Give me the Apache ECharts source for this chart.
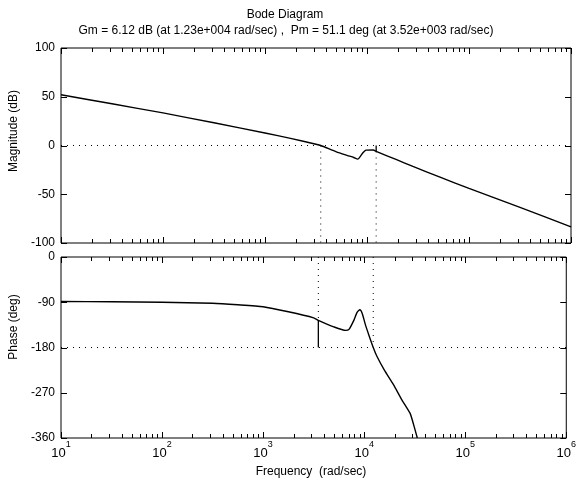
<!DOCTYPE html>
<html><head><meta charset="utf-8">
<script src="https://cdn.jsdelivr.net/npm/echarts@6/dist/echarts.min.js"></script>
<style>html,body{margin:0;padding:0;background:#fff}#c{width:579px;height:482px}</style>
</head><body><div id="c"></div>
<script>
// ---- data ----
const magFreq = [10, 31.6, 100, 316, 1000, 1778, 3162, 3520, 5012, 6457, 7413, 8110, 9120, 9770, 11480, 12300, 19500, 28180, 52000, 100000, 316200, 1000000];
const magDb   = [52, 42.8, 33.4, 23.3, 12.8, 7.3, 1.3, 0, -6.5, -10.3, -12.3, -14, -7.5, -4.8, -4.6, -6.1, -14.5, -21.5, -32.5, -44, -63.5, -83.5];
const phaseFreq = [10, 31.6, 100, 316, 562, 1000, 1778, 3162, 3520, 5012, 6561, 7079, 7943, 8511, 9078, 9550, 10300, 11120, 12300, 13400, 15850, 19500, 23440, 28510, 30900, 33570];
const phaseDeg  = [-88.5, -89, -90, -92, -95, -99, -109, -121, -126, -139, -146, -144, -125, -110, -105, -112, -135, -155, -180, -198, -225, -254, -283, -311, -334, -360];
const magTicks = [100, 50, 0, -50, -100];
const phaseTicks = [0, -90, -180, -270, -360];
const decades = [1, 2, 3, 4, 5, 6];
const gmFreq = 12300, gmDb = -6.12;
const pmFreq = 3520, pmPhase = -126;
const titleText = 'Bode Diagram';
const subtitleText = 'Gm = 6.12 dB (at 1.23e+004 rad/sec) ,  Pm = 51.1 deg (at 3.52e+003 rad/sec)';

const FONT = 'Liberation Sans, Arial, sans-serif';
const chart = echarts.init(document.getElementById('c'), null, {renderer: 'canvas'});
const xMin = Math.pow(10, decades[0]), xMax = Math.pow(10, decades[decades.length - 1]);

function zip(a, b) { return a.map((v, i) => [v, b[i]]); }

function tickRenderer(yTicks) {
  return function (params, api) {
    const children = [];
    const yTop = yTicks[0], yBot = yTicks[yTicks.length - 1];
    const add = (x1, y1, x2, y2) => children.push({type: 'line', shape: {x1, y1, x2, y2}, style: {stroke: '#000', lineWidth: 1}});
    for (let d = 0; d < decades.length; d++) {
      const base = Math.pow(10, decades[d]);
      for (let m = 1; m <= 9; m++) {
        if (d === decades.length - 1 && m > 1) break;
        const v = base * m;
        const len = m === 1 ? 6 : 4;
        const pb = api.coord([v, yBot]);
        const pt = api.coord([v, yTop]);
        const x = Math.round(pb[0]) + 0.5;
        add(x, pb[1], x, pb[1] - len);
        add(x, pt[1], x, pt[1] + len);
      }
    }
    yTicks.forEach(t => {
      const pl = api.coord([xMin, t]);
      const pr = api.coord([xMax, t]);
      const y = Math.round(pl[1]) + 0.5;
      add(pl[0], y, pl[0] + 6, y);
      add(pr[0], y, pr[0] - 6, y);
    });
    return {type: 'group', children};
  };
}

const dotted = {color: '#000', width: 1, type: [1, 5]};
const solidThin = {color: '#000', width: 1.3};

const labelRich = {
  b: {fontSize: 13, fontFamily: FONT, color: '#000', verticalAlign: 'bottom', lineHeight: 20},
  s: {fontSize: 9, fontFamily: FONT, color: '#000', verticalAlign: 'top', lineHeight: 20}
};

const option = {
  backgroundColor: '#fff',
  animation: false,
  grid: [
    {left: 61, right: 8, top: 48, height: 195, show: true, borderColor: '#000', borderWidth: 1, backgroundColor: '#fff'},
    {left: 61, right: 8, top: 257, height: 181, show: true, borderColor: '#000', borderWidth: 1, backgroundColor: '#fff'}
  ],
  xAxis: [0, 1].map(i => ({
    type: 'log', logBase: 10, gridIndex: i, min: xMin, max: xMax,
    axisLine: {show: false}, axisTick: {show: false}, splitLine: {show: false}, minorTick: {show: false},
    axisLabel: i === 1 ? {
      show: true, margin: 2,
      formatter: v => '{b|10}{s|' + Math.round(Math.log10(v)) + '}',
      rich: labelRich
    } : {show: false}
  })),
  yAxis: [
    {type: 'value', gridIndex: 0, min: magTicks[magTicks.length - 1], max: magTicks[0], interval: 50,
     axisLine: {show: false}, axisTick: {show: false}, splitLine: {show: false},
     axisLabel: {fontSize: 12, fontFamily: FONT, color: '#000', margin: 6}},
    {type: 'value', gridIndex: 1, min: phaseTicks[phaseTicks.length - 1], max: phaseTicks[0], interval: 90,
     axisLine: {show: false}, axisTick: {show: false}, splitLine: {show: false},
     axisLabel: {fontSize: 12, fontFamily: FONT, color: '#000', margin: 6}}
  ],
  series: [
    // reference dotted lines
    {type: 'line', xAxisIndex: 0, yAxisIndex: 0, data: [[xMin, 0], [xMax, 0]], showSymbol: false, lineStyle: dotted, silent: true, z: 1},
    {type: 'line', xAxisIndex: 1, yAxisIndex: 1, data: [[xMin, -180], [xMax, -180]], showSymbol: false, lineStyle: dotted, silent: true, z: 1},
    {type: 'line', xAxisIndex: 0, yAxisIndex: 0, data: [[pmFreq, 0], [pmFreq, magTicks[magTicks.length - 1]]], showSymbol: false, lineStyle: dotted, silent: true, z: 1},
    {type: 'line', xAxisIndex: 0, yAxisIndex: 0, data: [[gmFreq, gmDb], [gmFreq, magTicks[magTicks.length - 1]]], showSymbol: false, lineStyle: dotted, silent: true, z: 1},
    {type: 'line', xAxisIndex: 1, yAxisIndex: 1, data: [[pmFreq, 0], [pmFreq, pmPhase]], showSymbol: false, lineStyle: dotted, silent: true, z: 1},
    {type: 'line', xAxisIndex: 1, yAxisIndex: 1, data: [[gmFreq, 0], [gmFreq, -180]], showSymbol: false, lineStyle: dotted, silent: true, z: 1},
    // margin solid lines
    {type: 'line', xAxisIndex: 0, yAxisIndex: 0, data: [[gmFreq, 0], [gmFreq, gmDb]], showSymbol: false, lineStyle: solidThin, silent: true, z: 3},
    {type: 'line', xAxisIndex: 1, yAxisIndex: 1, data: [[pmFreq, pmPhase], [pmFreq, -180]], showSymbol: false, lineStyle: solidThin, silent: true, z: 3},
    // curves
    {type: 'line', xAxisIndex: 0, yAxisIndex: 0, data: zip(magFreq, magDb), showSymbol: false, smooth: 0.2, clip: true,
     lineStyle: {color: '#000', width: 1.4}, z: 4},
    {type: 'line', xAxisIndex: 1, yAxisIndex: 1, data: zip(phaseFreq, phaseDeg), showSymbol: false, smooth: 0.2, clip: true,
     lineStyle: {color: '#000', width: 1.4}, z: 4},
    // tick marks on all four sides
    {type: 'custom', xAxisIndex: 0, yAxisIndex: 0, data: [[xMin, 0]], renderItem: tickRenderer(magTicks), silent: true, z: 5, clip: false},
    {type: 'custom', xAxisIndex: 1, yAxisIndex: 1, data: [[xMin, 0]], renderItem: tickRenderer(phaseTicks), silent: true, z: 5, clip: false}
  ],
  graphic: [
    {type: 'text', x: 285, y: 15, style: {text: titleText, font: '12px ' + FONT, fill: '#000', textAlign: 'center', textVerticalAlign: 'middle'}},
    {type: 'text', x: 286, y: 31, style: {text: subtitleText, font: '12px ' + FONT, fill: '#000', textAlign: 'center', textVerticalAlign: 'middle'}},
    {type: 'text', x: 14, y: 131, rotation: Math.PI / 2, style: {text: 'Magnitude (dB)', font: '12px ' + FONT, fill: '#000', textAlign: 'center', textVerticalAlign: 'middle'}},
    {type: 'text', x: 14, y: 327, rotation: Math.PI / 2, style: {text: 'Phase (deg)', font: '12px ' + FONT, fill: '#000', textAlign: 'center', textVerticalAlign: 'middle'}},
    {type: 'text', x: 311, y: 472, style: {text: 'Frequency  (rad/sec)', font: '12px ' + FONT, fill: '#000', textAlign: 'center', textVerticalAlign: 'middle'}}
  ]
};
chart.setOption(option);
</script>
</body></html>
